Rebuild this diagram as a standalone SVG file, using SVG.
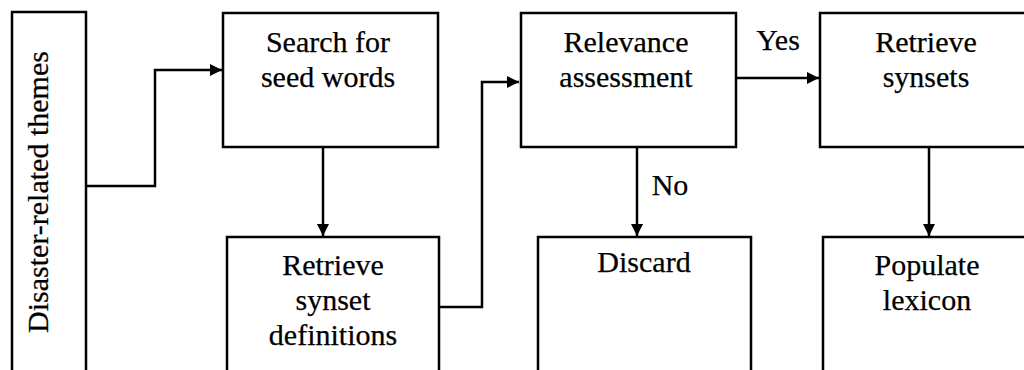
<svg xmlns="http://www.w3.org/2000/svg" width="1024" height="370" viewBox="0 0 1024 370">
<style>
.box{fill:#fff;stroke:#000;stroke-width:2.5}
.t{font-family:"Liberation Serif","Times New Roman","DejaVu Serif",serif;font-size:30px;fill:#000;stroke:#000;stroke-width:0.25;text-anchor:middle}
.c{fill:none;stroke:#000;stroke-width:2.5}
</style>
<defs>
<marker id="ah" viewBox="0 0 10 10" refX="10" refY="5" markerWidth="12" markerHeight="12" markerUnits="userSpaceOnUse" orient="auto">
<path d="M0,0 L10,5 L0,10 Z" fill="#000"/>
</marker>
</defs>
<rect width="1024" height="370" fill="#fff"/>
<g id="n-themes">
<rect class="box" x="12" y="12" width="74" height="380"/>
<text class="t" transform="translate(48,192) rotate(-90)">Disaster-related themes</text>
</g>
<g id="n-search">
<rect class="box" x="223" y="13" width="215" height="134"/>
<text class="t" x="328" y="52">Search for</text>
<text class="t" x="328" y="87">seed words</text>
</g>
<g id="n-defs">
<rect class="box" x="227" y="237" width="212" height="150"/>
<text class="t" x="333" y="275">Retrieve</text>
<text class="t" x="333" y="310">synset</text>
<text class="t" x="333" y="345">definitions</text>
</g>
<g id="n-relevance">
<rect class="box" x="521" y="13" width="215" height="134"/>
<text class="t" x="626" y="52">Relevance</text>
<text class="t" x="626" y="87">assessment</text>
</g>
<g id="n-discard">
<rect class="box" x="538" y="237" width="213" height="150"/>
<text class="t" x="644" y="272">Discard</text>
</g>
<g id="n-synsets">
<rect class="box" x="820" y="13" width="215" height="134"/>
<text class="t" x="926" y="52">Retrieve</text>
<text class="t" x="926" y="87">synsets</text>
</g>
<g id="n-lexicon">
<rect class="box" x="823" y="237" width="215" height="150"/>
<text class="t" x="927" y="275">Populate</text>
<text class="t" x="927" y="310">lexicon</text>
</g>
<g id="connectors">
<polyline class="c" points="86,186 155,186 155,70 222,70" marker-end="url(#ah)"/>
<line class="c" x1="323" y1="147" x2="323" y2="236" marker-end="url(#ah)"/>
<polyline class="c" points="439,307 482,307 482,82 519,82" marker-end="url(#ah)"/>
<line class="c" x1="736" y1="78" x2="819" y2="78" marker-end="url(#ah)"/>
<line class="c" x1="637" y1="147" x2="637" y2="236" marker-end="url(#ah)"/>
<line class="c" x1="929" y1="147" x2="929" y2="236" marker-end="url(#ah)"/>
<text class="t" x="778" y="50">Yes</text>
<text class="t" x="670" y="195">No</text>
</g>
</svg>
